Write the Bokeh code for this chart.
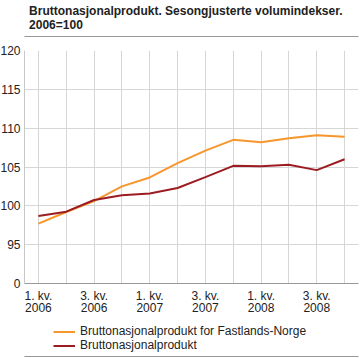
from bokeh.plotting import figure
from bokeh.models import FixedTicker, Range1d, Legend, LegendItem, LinearAxis
from bokeh.layouts import column
from bokeh.core.properties import value
from bokeh.embed import file_html
from bokeh.resources import INLINE

# ---- data ----
quarters = list(range(12))  # 1. kv. 2006 .. 4. kv. 2008
quarter_labels = ["1. kv.\n2006", "", "3. kv.\n2006", "", "1. kv.\n2007", "",
                  "3. kv.\n2007", "", "1. kv.\n2008", "", "3. kv.\n2008", ""]
fastland = [97.7, 99.2, 100.6, 102.5, 103.65, 105.5, 107.1, 108.5, 108.2, 108.7, 109.1, 108.9]
bnp = [98.7, 99.25, 100.75, 101.35, 101.6, 102.3, 103.7, 105.15, 105.1, 105.3, 104.6, 106.0]
y_ticks = [90, 95, 100, 105, 110, 115, 120]
y_tick_labels = ["0", "95", "100", "105", "110", "115", "120"]
title_lines = ["Bruttonasjonalprodukt. Sesongjusterte volumindekser.", "2006=100"]
series_names = ["Bruttonasjonalprodukt for Fastlands-Norge", "Bruttonasjonalprodukt"]
colors = ["#F7962B", "#9C1C22"]

FONT = "Liberation Sans"
TXT = "#222222"
RULE = "#999999"
W = 363


def rule_axis():
    # an unlabeled axis whose line serves as the horizontal rule
    return LinearAxis(ticker=FixedTicker(ticks=[]), axis_line_color=RULE, axis_line_width=1,
                      major_tick_out=0, major_tick_in=0, minor_tick_out=0, minor_tick_in=0,
                      major_label_standoff=0, major_label_text_font_size="1px")


# ---- title strip (pixel-like coordinates) ----
top = figure(width=W, height=42, output_backend="svg", toolbar_location=None, title=None,
             x_axis_location=None, y_axis_location=None,
             x_range=Range1d(0, W), y_range=Range1d(36, 0),
             min_border_left=0, min_border_right=0, min_border_top=0, min_border_bottom=6)
top.grid.visible = False
top.outline_line_color = None
top.text(x=[5, 5], y=[10, 24], text=title_lines, text_baseline="middle", text_align="left",
         text_font=value(FONT), text_font_size="12px", text_font_style="bold", text_color=TXT)
top.add_layout(rule_axis(), "below")

# ---- main chart ----
p = figure(width=W, height=276, output_backend="svg", toolbar_location=None,
           x_range=Range1d(-0.5, 11.5), y_range=Range1d(90, 120),
           min_border_left=28, min_border_right=1, min_border_top=8, min_border_bottom=35)
p.outline_line_color = None

p.xaxis.ticker = FixedTicker(ticks=quarters)
p.xaxis.major_label_overrides = {q: l for q, l in zip(quarters, quarter_labels)}
p.yaxis.ticker = FixedTicker(ticks=y_ticks)
p.yaxis.major_label_overrides = {t: l for t, l in zip(y_ticks, y_tick_labels)}
for ax in (p.xaxis, p.yaxis):
    ax.major_tick_line_color = None
    ax.minor_tick_line_color = None
    ax.major_tick_out = 0
    ax.major_tick_in = 0
    ax.minor_tick_out = 0
    ax.minor_tick_in = 0
    ax.major_label_text_font = FONT
    ax.major_label_text_font_size = "12px"
    ax.major_label_text_color = TXT
p.xaxis.axis_line_color = RULE
p.yaxis.axis_line_color = "#c8c8c8"
p.xaxis.major_label_standoff = 5
p.xaxis.major_label_text_line_height = 0.9
p.yaxis.major_label_standoff = 4
p.xgrid.grid_line_color = "#d6d6d6"
p.ygrid.grid_line_color = "#d6d6d6"

p.line(quarters, fastland, line_color=colors[0], line_width=2)
p.line(quarters, bnp, line_color=colors[1], line_width=2)

# ---- legend strip ----
leg = figure(width=W, height=40, output_backend="svg", toolbar_location=None, title=None,
             x_axis_location=None, y_axis_location=None,
             x_range=Range1d(1000, 1000 + W), y_range=Range1d(38, 0),
             min_border_left=0, min_border_right=0, min_border_top=0, min_border_bottom=2)
leg.grid.visible = False
leg.outline_line_color = None
# proxies for the legend (the data lies outside this strip's ranges, so nothing is drawn)
k1 = leg.line(quarters, fastland, line_color=colors[0], line_width=2)
k2 = leg.line(quarters, bnp, line_color=colors[1], line_width=2)
legend = Legend(items=[LegendItem(label=series_names[0], renderers=[k1]),
                       LegendItem(label=series_names[1], renderers=[k2])],
                location=(29, 4), orientation="vertical",
                label_text_font=FONT, label_text_font_size="12px", label_text_color=TXT,
                glyph_width=22, glyph_height=13, label_height=13, spacing=0,
                padding=0, margin=0, border_line_color=None, background_fill_alpha=0,
                label_standoff=5)
leg.add_layout(legend, "center")
leg.add_layout(rule_axis(), "below")

layout = column(top, p, leg, spacing=0)
layout.styles = {"margin-left": "-4px", "margin-top": "0px"}

open("out.html", "w").write(file_html(layout, INLINE))
